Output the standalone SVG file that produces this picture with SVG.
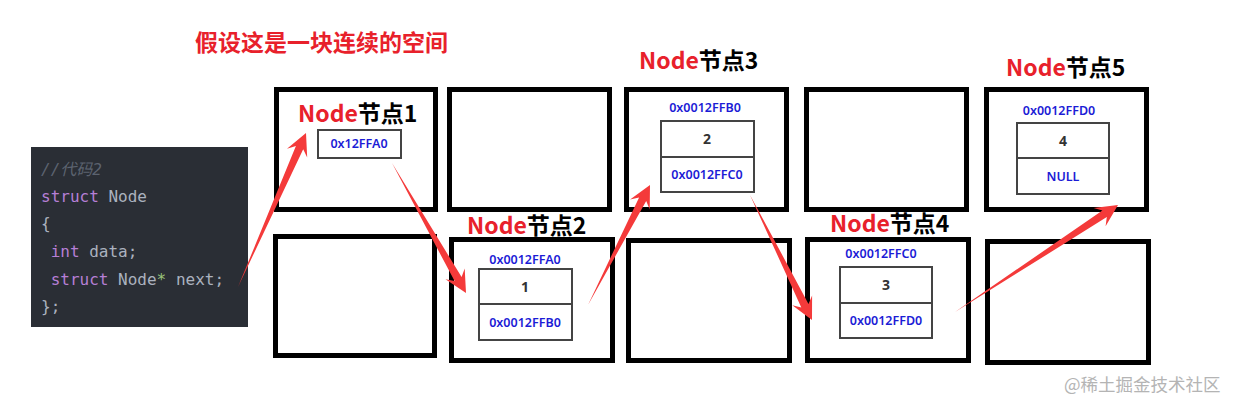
<svg xmlns="http://www.w3.org/2000/svg" width="1233" height="402" viewBox="0 0 1233 402">
<style>
.cell{fill:#fff;stroke:#000;stroke-width:5}
.inner{fill:#fff;stroke:#444;stroke-width:2}
.lbl{font-family:"Noto Sans CJK SC","Noto Sans",sans-serif;font-weight:700;font-size:23px}
.red{fill:#e8212b}
.blk{fill:#000}
.addr{font-family:"Noto Sans","DejaVu Sans",sans-serif;font-weight:600;font-size:12.5px;fill:#1c1cd6;text-anchor:middle}
.val{font-family:"Noto Sans","DejaVu Sans",sans-serif;font-weight:700;font-size:14px;fill:#333;text-anchor:middle}
.code{font-family:"DejaVu Sans Mono","Liberation Mono",monospace;font-size:16px;fill:#abb2bf}
.kw{fill:#b67fd6}
.arrow{fill:#f43a3a}
</style>
<rect width="1233" height="402" fill="#fff"/>
<text x="195" y="51" font-family="Noto Sans CJK SC,sans-serif" font-weight="700" font-size="23" fill="#e8212b">假设这是一块连续的空间</text>

<g id="code">
<rect x="31" y="147" width="217" height="180" fill="#2a2e35"/>
<text x="41" y="175" class="code" font-style="italic" style="fill:#5c6370;font-family:'DejaVu Sans Mono','Noto Sans CJK SC',monospace">//代码2</text>
<text x="41" y="202" class="code"><tspan class="kw">struct</tspan> Node</text>
<text x="41" y="229" class="code">{</text>
<text x="41" y="257" class="code" xml:space="preserve"> <tspan class="kw">int</tspan> data;</text>
<text x="41" y="285" class="code" xml:space="preserve"> <tspan class="kw">struct</tspan> Node<tspan fill="#98c379">*</tspan> next;</text>
<text x="41" y="312" class="code">};</text>
</g>

<g id="node1">
<rect class="cell" x="276.5" y="89.5" width="159" height="120"/>
<text class="lbl" x="298" y="122"><tspan class="red">Node</tspan><tspan class="blk">节点1</tspan></text>
<rect class="inner" x="318" y="130" width="83" height="28"/>
<text class="addr" x="359" y="148" font-size="13.5">0x12FFA0</text>
</g>
<g id="cell2"><rect class="cell" x="449.5" y="89.5" width="160" height="120"/></g>
<g id="node3">
<rect class="cell" x="626.5" y="89.5" width="160" height="120"/>
<text class="lbl" x="639" y="69"><tspan class="red">Node</tspan><tspan class="blk">节点3</tspan></text>
<text class="addr" x="705" y="112">0x0012FFB0</text>
<rect class="inner" x="661" y="121" width="93" height="71"/>
<line x1="661" y1="157" x2="754" y2="157" stroke="#444" stroke-width="2"/>
<text class="val" x="707" y="144">2</text>
<text class="addr" x="707" y="179">0x0012FFC0</text>
</g>
<g id="cell4"><rect class="cell" x="806.5" y="89.5" width="160" height="120"/></g>
<g id="node5">
<rect class="cell" x="986.5" y="89.5" width="160" height="120"/>
<text class="lbl" x="1006" y="76"><tspan class="red">Node</tspan><tspan class="blk">节点5</tspan></text>
<text class="addr" x="1059" y="115">0x0012FFD0</text>
<rect class="inner" x="1017" y="123" width="92" height="71"/>
<line x1="1017" y1="158" x2="1109" y2="158" stroke="#444" stroke-width="2"/>
<text class="val" x="1063" y="146">4</text>
<text class="addr" x="1063" y="181">NULL</text>
</g>

<g id="cell6"><rect class="cell" x="275.5" y="236.5" width="159" height="119"/></g>
<g id="node2">
<rect class="cell" x="451.5" y="239.5" width="161" height="121"/>
<text class="lbl" x="467" y="234"><tspan class="red">Node</tspan><tspan class="blk">节点2</tspan></text>
<text class="addr" x="525" y="264">0x0012FFA0</text>
<rect class="inner" x="479" y="269" width="93" height="71"/>
<line x1="479" y1="304" x2="572" y2="304" stroke="#444" stroke-width="2"/>
<text class="val" x="525" y="292">1</text>
<text class="addr" x="525" y="327">0x0012FFB0</text>
</g>
<g id="cell8"><rect class="cell" x="628.5" y="240.5" width="161" height="120"/></g>
<g id="node4">
<rect class="cell" x="807.5" y="239.5" width="161" height="121"/>
<text class="lbl" x="830" y="232"><tspan class="red">Node</tspan><tspan class="blk">节点4</tspan></text>
<text class="addr" x="881" y="258">0x0012FFC0</text>
<rect class="inner" x="840" y="267" width="92" height="71"/>
<line x1="840" y1="303" x2="932" y2="303" stroke="#444" stroke-width="2"/>
<text class="val" x="886" y="290">3</text>
<text class="addr" x="886" y="325">0x0012FFD0</text>
</g>
<g id="cell10"><rect class="cell" x="987.5" y="241.5" width="161" height="121"/></g>

<g id="connectors">
<polygon class="arrow" points="238,287 303.2,149.2 307.2,157.5 306,133 287.0,148.7 295.9,146.0"/>
<polygon class="arrow" points="392,163 454.6,281.1 445.5,279.3 466,293 464.7,268.5 461.6,277.1"/>
<polygon class="arrow" points="588,305 646.2,201.0 649.7,209.5 650,185 630.1,199.5 639.1,197.4"/>
<polygon class="arrow" points="750,195 801.3,307.5 792.3,305.2 812,320 812.1,295.4 808.5,303.9"/>
<polygon class="arrow" points="955,312 1106.8,217.1 1105.6,226.3 1118,205 1093.6,207.9 1102.4,210.5"/>
</g>

<text x="1064" y="391" font-family="Noto Sans CJK SC,sans-serif" font-size="17.5" fill="#b4b4b4">@稀土掘金技术社区</text>
</svg>
